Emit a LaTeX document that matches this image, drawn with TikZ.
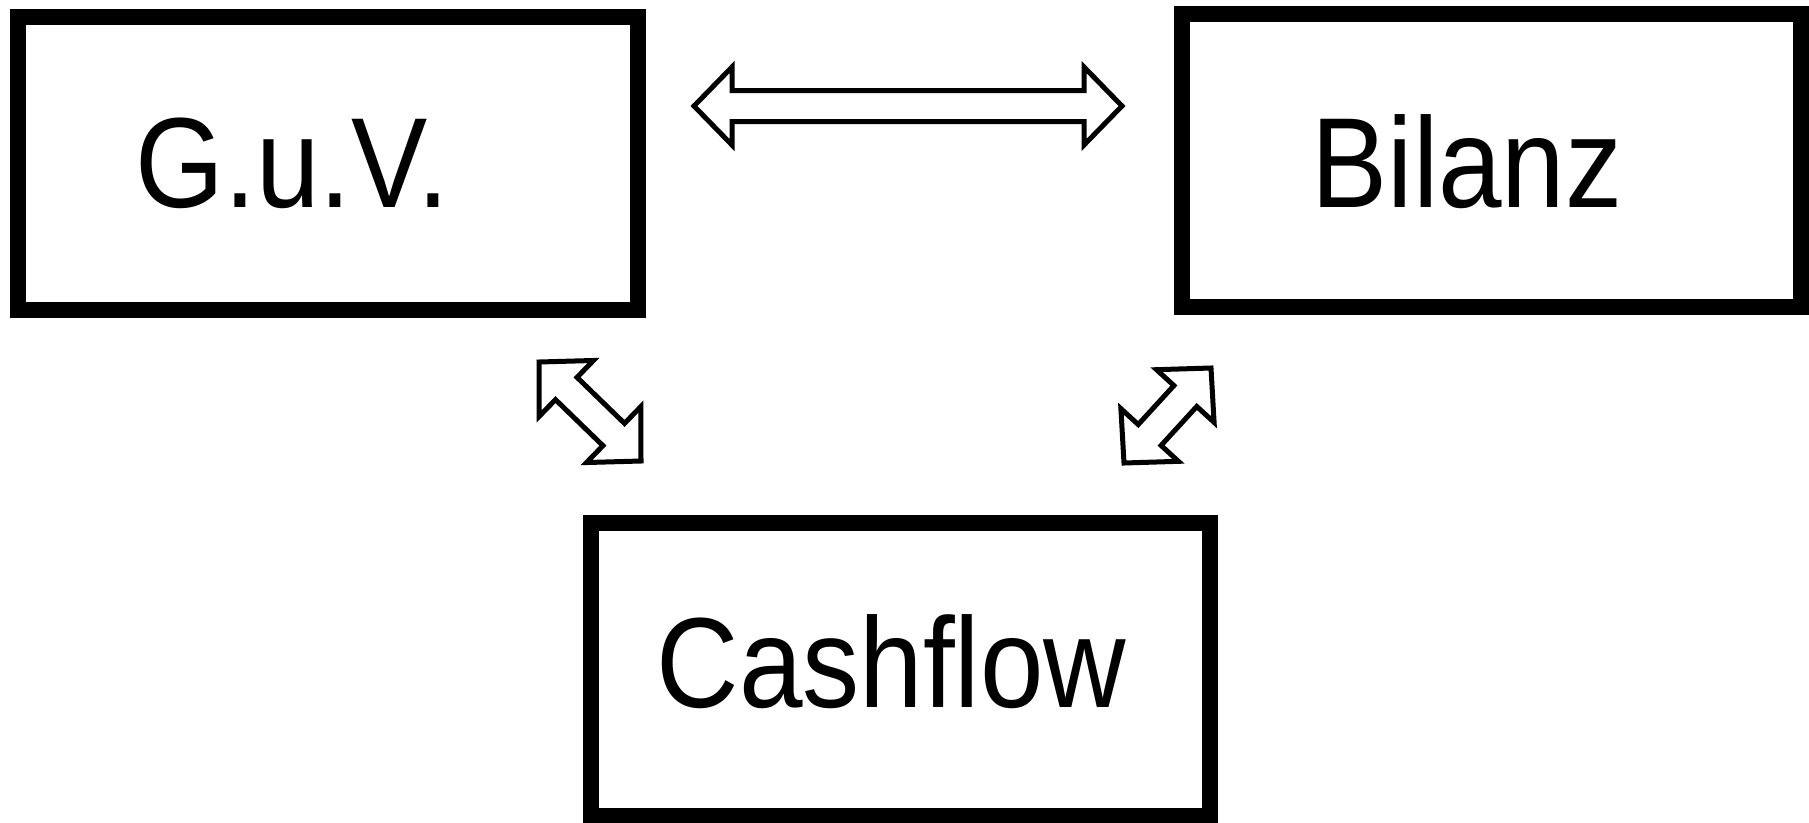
\documentclass[tikz,border=0pt]{standalone}
\usepackage{fontspec}
\setmainfont{Liberation Sans}
\newfontfamily\boxfont[FakeStretch=0.89]{Liberation Sans}
\usetikzlibrary{calc}

% hollow double-headed arrow between two named points
\newcommand{\dblarrow}[2]{%
  \draw[hollow]
    (#1) -- ($(#1)!0.38cm!(#2)!0.39cm!90:(#2)$) -- ($(#1)!0.38cm!(#2)!0.155cm!90:(#2)$)
    -- ($(#2)!0.38cm!(#1)!0.155cm!-90:(#1)$) -- ($(#2)!0.38cm!(#1)!0.39cm!-90:(#1)$)
    -- (#2) -- ($(#2)!0.38cm!(#1)!0.39cm!90:(#1)$) -- ($(#2)!0.38cm!(#1)!0.155cm!90:(#1)$)
    -- ($(#1)!0.38cm!(#2)!0.155cm!-90:(#2)$) -- ($(#1)!0.38cm!(#2)!0.39cm!-90:(#2)$)
    -- cycle;}

\begin{document}
\begin{tikzpicture}[
    account/.style={draw, line width=0.16cm, minimum width=6.19cm, minimum height=2.93cm, inner sep=0pt},
    title/.style={anchor=base, inner sep=0pt, font=\boxfont\fontsize{36.5}{40}\selectfont},
    hollow/.style={draw, fill=white, line width=0.05cm, line join=miter}
  ]
    \useasboundingbox (0, 0) rectangle (18.09, -8.22);

    \node[account] (guv) at (3.28, -1.63) {};
    \node[account] (bilanz) at (14.915, -1.60) {};
    \node[account] (cashflow) at (9.005, -6.695) {};

    \node[title] (guvtext) at (2.925, -2.07) {G.u.V.};
    \node[title] (bilanztext) at (14.67, -2.077) {Bilanz};
    \node[title] (cashflowtext) at (8.915, -7.075) {Cashflow};

    \coordinate (guvright) at (6.94, -1.06);
    \coordinate (bilanzleft) at (11.22, -1.06);
    \coordinate (guvdown) at (5.39, -3.62);
    \coordinate (cashleft) at (6.41, -4.61);
    \coordinate (cashright) at (11.24, -4.63);
    \coordinate (bilanzdown) at (12.11, -3.68);

    \dblarrow{guvright}{bilanzleft}
    \dblarrow{guvdown}{cashleft}
    \dblarrow{cashright}{bilanzdown}
  \end{tikzpicture}
\end{document}
